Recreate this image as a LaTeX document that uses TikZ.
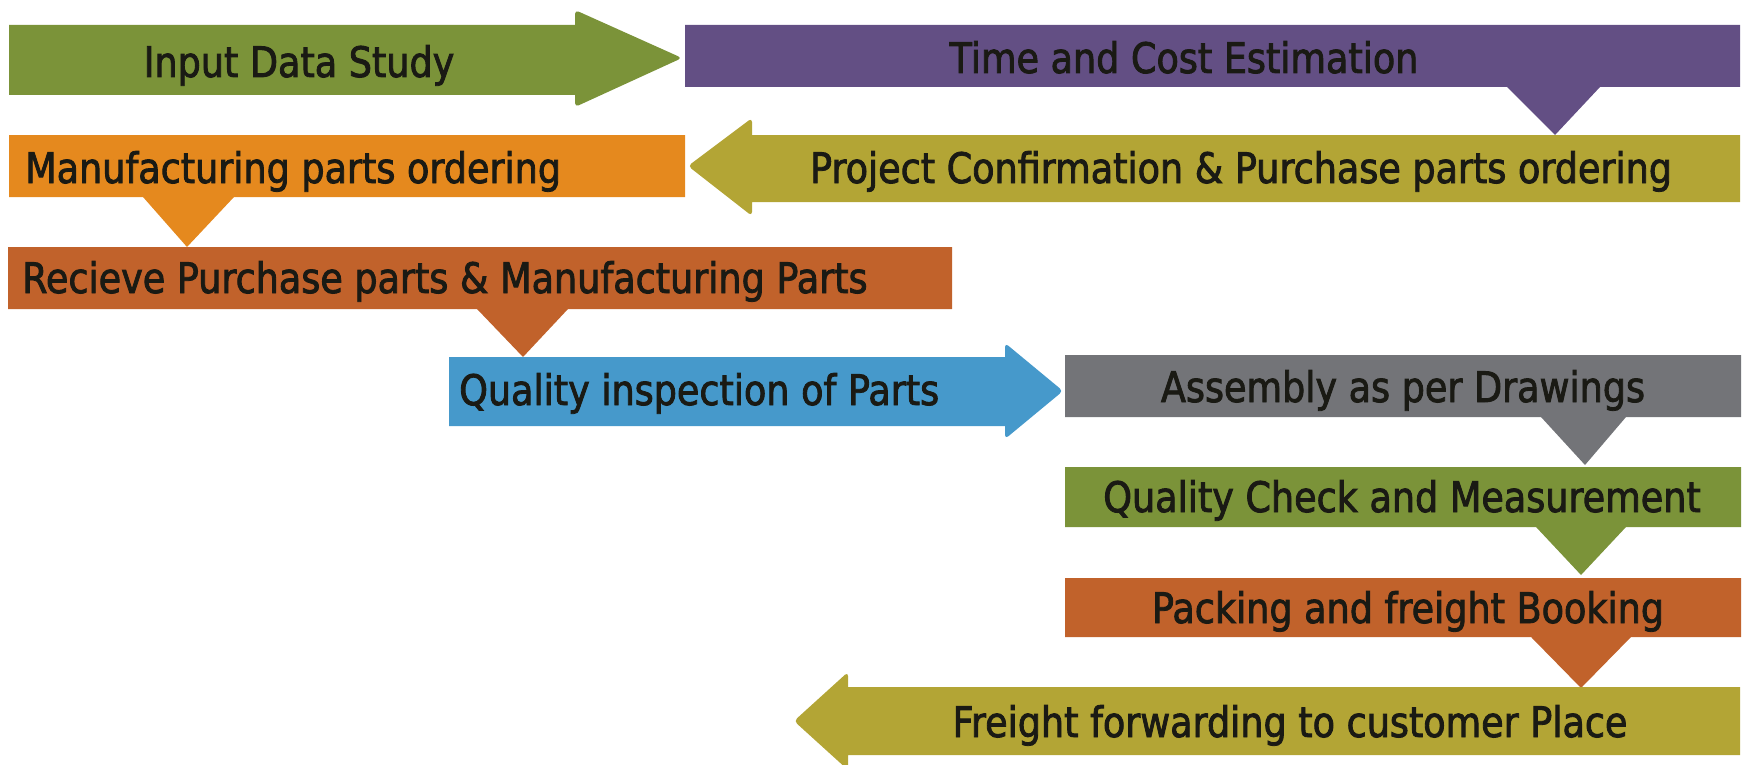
\documentclass[tikz,border=0pt]{standalone}
\usepackage{fontspec}
\setmainfont{DejaVu Sans}[FakeStretch=0.87,FakeBold=2]
\definecolor{cgreen}{HTML}{7B9339}
\definecolor{cpurple}{HTML}{634F84}
\definecolor{colive}{HTML}{B3A535}
\definecolor{corange}{HTML}{E5891E}
\definecolor{cdorange}{HTML}{C1622B}
\definecolor{cblue}{HTML}{4699CB}
\definecolor{cgray}{HTML}{737478}
\definecolor{ctext}{HTML}{1A1A14}
\begin{document}
\begin{tikzpicture}[x=1pt,y=-1pt,
  lbl/.style={inner sep=0pt, text=ctext, font=\fontsize{42}{50}\selectfont}]
\useasboundingbox (0,0) rectangle (1744,765);
% shapes
\fill[cgreen] (9,25) -- (575,25) [rounded corners=4] -- (575,10) -- (682,58) -- (575,107) [sharp corners] -- (575,95) -- (9,95) -- cycle;
\fill[cpurple] (685,25) -- (1740,25) -- (1740,87) -- (1600,87) -- (1555,135) -- (1507,87) -- (685,87) -- cycle;
\fill[colive] (1740,135) -- (752,135) [rounded corners=4] -- (752,118) -- (688,166) -- (752,216) [sharp corners] -- (752,202) -- (1740,202) -- cycle;
\fill[corange] (9,135) -- (685,135) -- (685,197) -- (234,197) -- (187,247) -- (143,197) -- (9,197) -- cycle;
\fill[cdorange] (8,247) -- (952,247) -- (952,309) -- (568,309) -- (523,357) -- (477,309) -- (8,309) -- cycle;
\fill[cblue] (449,357) -- (1005,357) [rounded corners=4] -- (1005,343) -- (1063,391) -- (1005,439) [sharp corners] -- (1005,426) -- (449,426) -- cycle;
\fill[cgray] (1065,355) -- (1741,355) -- (1741,417) -- (1626,417) -- (1585,465) -- (1541,417) -- (1065,417) -- cycle;
\fill[cgreen] (1065,467) -- (1741,467) -- (1741,527) -- (1626,527) -- (1581,575) -- (1536,527) -- (1065,527) -- cycle;
\fill[cdorange] (1065,578) -- (1741,578) -- (1741,637) -- (1631,637) -- (1581,688) -- (1531,637) -- (1065,637) -- cycle;
\fill[colive] (1740,687) -- (848,687) [rounded corners=4] -- (848,672) -- (794,721) -- (848,770) [sharp corners] -- (848,755) -- (1740,755) -- cycle;
% labels
\node[lbl, anchor=base] (t1) at (299,77) {Input Data Study};
\node[lbl, anchor=base] (t2) at (1184,73) {Time and Cost Estimation};
\node[lbl, anchor=base] (t3) at (1241,183) {Project Confirmation \& Purchase parts ordering};
\node[lbl, anchor=base west] (t4) at (25,183) {Manufacturing parts ordering};
\node[lbl, anchor=base west] (t5) at (22,293) {Recieve Purchase parts \& Manufacturing Parts};
\node[lbl, anchor=base west] (t6) at (459,405) {Quality inspection of Parts};
\node[lbl, anchor=base] (t7) at (1403,402) {Assembly as per Drawings};
\node[lbl, anchor=base] (t8) at (1402,512) {Quality Check and Measurement};
\node[lbl, anchor=base] (t9) at (1408,623) {Packing and freight Booking};
\node[lbl, anchor=base] (t10) at (1290,737) {Freight forwarding to customer Place};
\end{tikzpicture}
\end{document}
